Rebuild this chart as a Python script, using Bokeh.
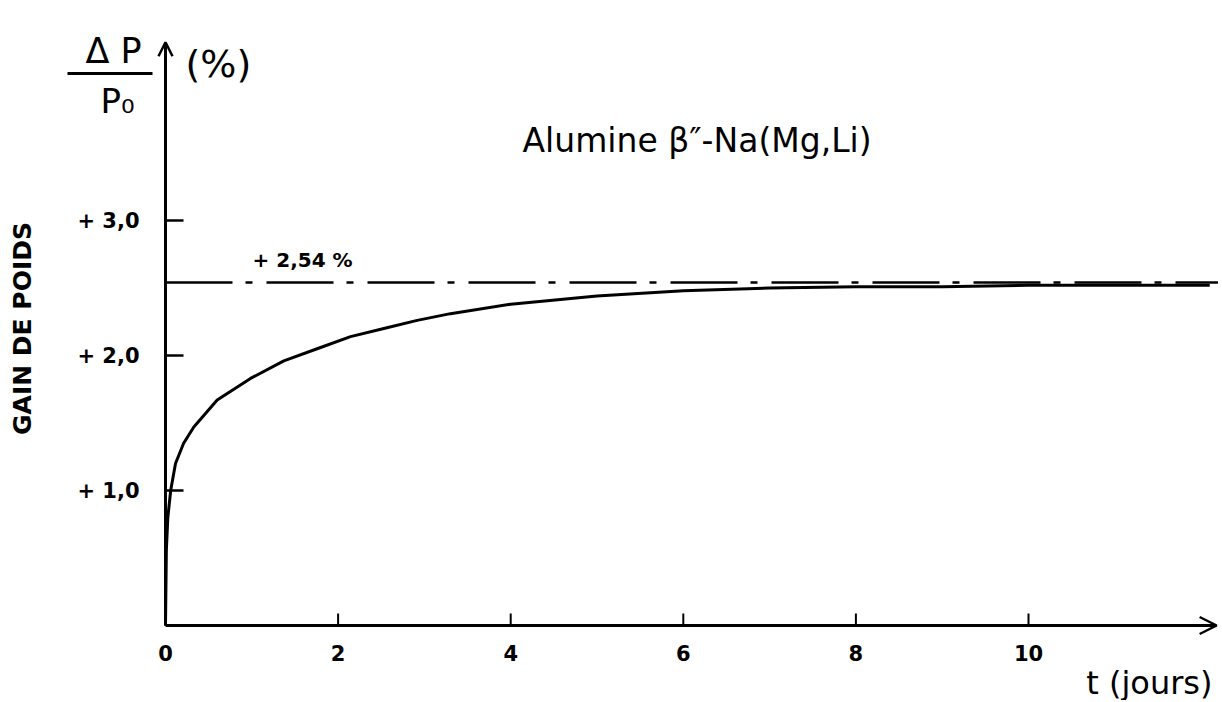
import math
from bokeh.plotting import figure
from bokeh.models import Range1d, Label, Arrow, OpenHead, ColumnDataSource
from bokeh.core.properties import value
from bokeh.embed import file_html
from bokeh.resources import INLINE

# ---------------- data ----------------
t_days = [0, 0.01, 0.027, 0.06, 0.116, 0.21, 0.328, 0.599, 0.985, 1.371, 1.757,
          2.144, 2.53, 2.916, 3.302, 4.0, 5.0, 6.0, 7.0, 8.0, 9.0, 10.0, 11.0, 12.1]
gain_pct = [0, 0.56, 0.80, 1.00, 1.20, 1.35, 1.47, 1.67, 1.83, 1.96, 2.05,
            2.14, 2.20, 2.26, 2.31, 2.38, 2.44, 2.48, 2.50, 2.51, 2.51, 2.52, 2.52, 2.52]
plateau_value = 2.54
plateau_t = [0, 12.2]
x_ticks = [0, 2, 4, 6, 8, 10]
x_tick_labels = ["0", "2", "4", "6", "8", "10"]
y_ticks = [1.0, 2.0, 3.0]
y_tick_labels = ["+ 1,0", "+ 2,0", "+ 3,0"]
x_axis_end = 12.18   # end of the time axis (arrow tip)
y_axis_end = 4.32    # end of the gain axis (arrow tip)

# ---------------- layout ----------------
W, H = 1218, 700
ORIGIN_X, ORIGIN_Y = 165, 625          # pixel position of (0, 0)
PX_X, PX_Y = 86.3, 135.0               # pixels per day / per percent
FONT = value("DejaVu Sans")


def dx(px):
    return px / PX_X


def dy(px):
    return px / PX_Y


p = figure(width=W, height=H, output_backend="svg", toolbar_location=None,
           x_axis_type=None, y_axis_type=None,
           x_range=Range1d(-ORIGIN_X / PX_X, (W - ORIGIN_X) / PX_X),
           y_range=Range1d(-(H - ORIGIN_Y) / PX_Y, ORIGIN_Y / PX_Y),
           min_border=0)
p.grid.visible = False
p.outline_line_color = None
p.background_fill_color = "white"
p.border_fill_color = "white"

# ---- axes (lines with arrow heads, ticks, tick labels) ----
p.add_layout(Arrow(x_start=0, y_start=0, x_end=0, y_end=y_axis_end,
                   end=OpenHead(size=14, line_width=2.5, line_color="black"),
                   line_width=3, line_color="black"))
p.add_layout(Arrow(x_start=0, y_start=0, x_end=x_axis_end, y_end=0,
                   end=OpenHead(size=17, line_width=2.5, line_color="black"),
                   line_width=3, line_color="black"))

ytick_src = ColumnDataSource(dict(x0=[0] * len(y_ticks), x1=[dx(18)] * len(y_ticks),
                                  y=y_ticks, label=y_tick_labels))
p.segment(x0="x0", y0="y", x1="x1", y1="y", source=ytick_src, line_color="black", line_width=2.5)
p.text(x="x0", y="y", text="label", source=ytick_src, x_offset=-26,
       text_font=FONT, text_font_size="21px", text_font_style="bold",
       text_align="right", text_baseline="middle", text_color="black")

xtick_src = ColumnDataSource(dict(x=x_ticks, y0=[0] * len(x_ticks), y1=[dy(12)] * len(x_ticks),
                                  label=x_tick_labels))
p.segment(x0="x", y0="y0", x1="x", y1="y1", source=xtick_src, line_color="black", line_width=2)
p.text(x="x", y="y0", text="label", source=xtick_src, y_offset=19,
       text_font=FONT, text_font_size="21px", text_font_style="bold",
       text_align="center", text_baseline="top", text_color="black")

# ---- data marks ----
p.line(plateau_t, [plateau_value] * len(plateau_t), line_color="black", line_width=2.5,
       line_dash="67 13 7 14")
p.line(t_days, gain_pct, line_color="black", line_width=3)

# ---- texts ----
def label(x, y, text, size, align="left", baseline="middle", angle=0.0, style="normal"):
    p.add_layout(Label(x=x, y=y, text=text, text_font="DejaVu Sans", text_font_size=size,
                       text_align=align, text_baseline=baseline, text_color="black",
                       angle=angle, text_font_style=style))


label(dx(1212 - ORIGIN_X), dy(ORIGIN_Y - 682), "t (jours)", "32px", "right")
label(dx(22 - ORIGIN_X), dy(ORIGIN_Y - 328), "GAIN DE POIDS", "25px", "center",
      angle=math.pi / 2, style="bold")
label(dx(85 - ORIGIN_X), dy(ORIGIN_Y - 50), "Δ P", "35px", "left")
p.line([dx(67 - ORIGIN_X), dx(152 - ORIGIN_X)], [dy(ORIGIN_Y - 73)] * 2,
       line_color="black", line_width=3)
label(dx(100 - ORIGIN_X), dy(ORIGIN_Y - 100), "P₀", "34px", "left")
label(dx(185 - ORIGIN_X), dy(ORIGIN_Y - 63), "(%)", "38px", "left")
label(dx(522 - ORIGIN_X), dy(ORIGIN_Y - 140), "Alumine β″-Na(Mg,Li)", "33px", "left")
label(dx(252 - ORIGIN_X), dy(ORIGIN_Y - 259), "+ 2,54 %", "20px", "left", style="bold")

open("out.html", "w").write(file_html(p, INLINE))
